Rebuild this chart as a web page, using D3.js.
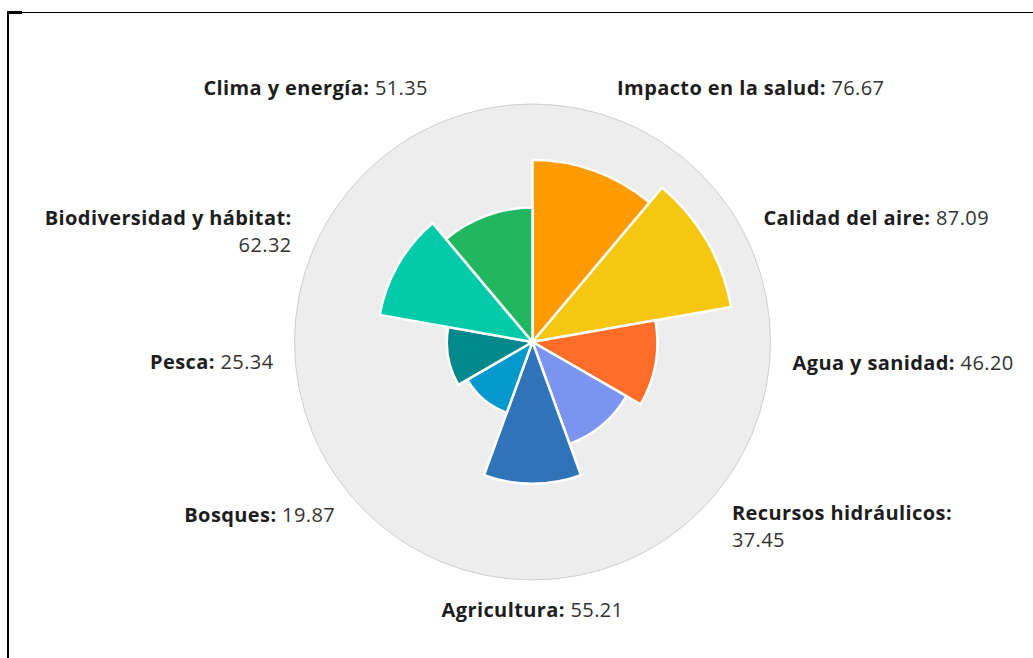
<!DOCTYPE html>
<html lang="es">
<head>
<meta charset="utf-8">
<title>Indicadores ambientales</title>
<script src="https://d3js.org/d3.v7.min.js"></script>
<style>
  body { margin: 0; background: #fff; }
  svg { display: block; }
  .lbl { font-family: "Open Sans", Lato, sans-serif; font-size: 20px; letter-spacing: 0.4px; }
  .lbl .name { font-weight: 700; fill: #1d1d1d; }
  .lbl .val { font-weight: 400; fill: #333; }
</style>
</head>
<body>
<script>
// data, clockwise from 12 o'clock
const categories = ["Impacto en la salud", "Calidad del aire", "Agua y sanidad",
  "Recursos hidráulicos", "Agricultura", "Bosques", "Pesca",
  "Biodiversidad y hábitat", "Clima y energía"];
const values = [76.67, 87.09, 46.20, 37.45, 55.21, 19.87, 25.34, 62.32, 51.35];
const colors = ["#ff9a00", "#f6c711", "#ff6d28", "#7b94f0", "#2f73b9",
  "#0399cc", "#00898a", "#00caa8", "#21b660"];

// layout
const w = 1033, h = 658;
const cx = 532.5, cy = 342;
const bgRadius = 238;
const labelRadius = 262;
// small hand nudges so labels sit like the original, [dx, dy]
const labelNudge = [[-5, -1], [4, 14], [2, -17], [31, -23], [0, 13],
  [-29, -21], [-1, -18], [-14, 14], [-15, -1]];
const labelWrap = [false, false, false, true, false, false, false, true, false];

const svg = d3.select("body").append("svg")
  .attr("width", w)
  .attr("height", h);

// frame lines
svg.append("line")
  .attr("x1", 7).attr("x2", w).attr("y1", 12.5).attr("y2", 12.5)
  .attr("stroke", "#000").attr("stroke-width", 1);
svg.append("rect")
  .attr("x", 7).attr("y", 11).attr("width", 15).attr("height", 3)
  .attr("fill", "#000");
svg.append("line")
  .attr("x1", 8).attr("x2", 8).attr("y1", 11).attr("y2", h)
  .attr("stroke", "#000").attr("stroke-width", 2);

const g = svg.append("g").attr("transform", `translate(${cx},${cy})`);

// background disc
g.append("circle")
  .attr("r", bgRadius)
  .attr("fill", "#ededed")
  .attr("stroke", "#cfcfcf")
  .attr("stroke-width", 1);

const angle = d3.scaleBand()
  .domain(categories)
  .range([0, 2 * Math.PI])
  .padding(0);

const radius = d3.scaleLinear()
  .domain([0, 100])
  .range([38, 226]);

const arc = d3.arc()
  .innerRadius(0)
  .outerRadius(d => radius(d.value))
  .startAngle(d => angle(d.name))
  .endAngle(d => angle(d.name) + angle.bandwidth());

const rows = categories.map((c, i) => ({ name: c, value: values[i], color: colors[i], i: i }));

g.selectAll("path.slice")
  .data(rows)
  .join("path")
  .attr("class", "slice")
  .attr("d", arc)
  .attr("fill", d => d.color)
  .attr("stroke", "#fff")
  .attr("stroke-width", 2.5)
  .attr("stroke-linejoin", "round");

// labels
const lineH = 27;
rows.forEach(d => {
  const a = angle(d.name) + angle.bandwidth() / 2;
  const s = Math.sin(a);
  const x = labelRadius * s + labelNudge[d.i][0];
  const y = -labelRadius * Math.cos(a) + labelNudge[d.i][1];
  const anchor = Math.abs(s) < 0.1 ? "middle" : (s > 0 ? "start" : "end");
  const t = g.append("text")
    .attr("class", "lbl")
    .attr("x", x)
    .attr("y", y)
    .attr("text-anchor", anchor);
  t.append("tspan").attr("class", "name").text(d.name + ":");
  if (labelWrap[d.i]) {
    t.append("tspan").attr("class", "val")
      .attr("x", x).attr("dy", lineH)
      .text(d3.format(".2f")(d.value));
  } else {
    t.append("tspan").attr("class", "val").text(" " + d3.format(".2f")(d.value));
  }
});
</script>
</body>
</html>
